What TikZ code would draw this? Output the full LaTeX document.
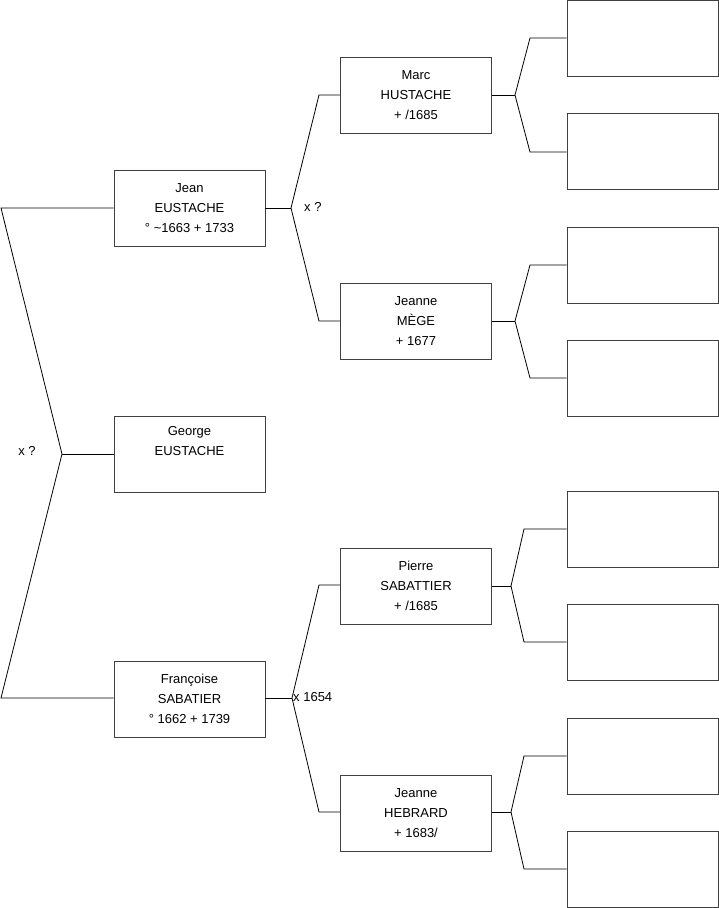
\documentclass[tikz,border=0pt]{standalone}
\usepackage{fontspec}
\setmainfont{Liberation Sans}
\begin{document}
\begin{tikzpicture}[x=1pt,y=-1pt,
  person/.style={draw=black!75,line width=0.9pt,rectangle,minimum width=151pt,minimum height=76pt,inner sep=0pt,align=center,font=\fontsize{13}{20}\selectfont},
  link/.style={draw=black,line width=0.8pt},
  lbl/.style={font=\fontsize{13}{15}\selectfont,inner sep=0pt}]
\useasboundingbox (0,0) rectangle (719,908);
% generation 1
\node[person] (jean) at (189.5,208) {Jean\\EUSTACHE\\° \textasciitilde1663 + 1733};
\node[person] (george) at (189.5,454) {George\\EUSTACHE\\\strut};
\node[person] (fran) at (189.5,699) {Françoise\\SABATIER\\° 1662 + 1739};
% generation 2
\node[person] (marc) at (416,95) {Marc\\HUSTACHE\\+ /1685};
\node[person] (mege) at (416,321.5) {Jeanne\\MÈGE\\+ 1677};
\node[person] (pierre) at (416,586) {Pierre\\SABATTIER\\+ /1685};
\node[person] (hebrard) at (416,813) {Jeanne\\HEBRARD\\+ 1683/};
% generation 3
\node[person] (g1) at (642.5,38) {};
\node[person] (g2) at (642.5,151) {};
\node[person] (g3) at (642.5,265) {};
\node[person] (g4) at (642.5,378) {};
\node[person] (g5) at (642.5,529) {};
\node[person] (g6) at (642.5,642) {};
\node[person] (g7) at (642.5,756) {};
\node[person] (g8) at (642.5,869) {};
% junction coordinates
\coordinate (L1) at (1,208);
\coordinate (Lm) at (62,454);
\coordinate (L2) at (1,698);
\coordinate (Jm) at (291,208);
\coordinate (Ja) at (319,95);
\coordinate (Jb) at (319,321);
\coordinate (Fm) at (292,698);
\coordinate (Fa) at (319,585);
\coordinate (Fb) at (319,812);
\coordinate (Mm) at (515,95);
\coordinate (Ma) at (530,38);
\coordinate (Mb) at (530,152);
\coordinate (Em) at (515,321);
\coordinate (Ea) at (530,265);
\coordinate (Eb) at (530,378);
\coordinate (Pm) at (511,586);
\coordinate (Pa) at (524,529);
\coordinate (Pb) at (524,642);
\coordinate (Hm) at (511,812);
\coordinate (Ha) at (524,756);
\coordinate (Hb) at (524,869);
% connectors
\draw[link] (jean.west |- L1) -- (L1) -- (Lm) -- (L2) -- (fran.west |- L2);
\draw[link] (george.west) -- (Lm);
\draw[link] (jean.east |- Jm) -- (Jm);
\draw[link] (marc.west) -- (Ja) -- (Jm) -- (Jb) -- (mege.west |- Jb);
\draw[link] (fran.east |- Fm) -- (Fm);
\draw[link] (pierre.west |- Fa) -- (Fa) -- (Fm) -- (Fb) -- (hebrard.west |- Fb);
\draw[link] (marc.east) -- (Mm);
\draw[link] (g1.west) -- (Ma) -- (Mm) -- (Mb) -- (g2.west |- Mb);
\draw[link] (mege.east |- Em) -- (Em);
\draw[link] (g3.west) -- (Ea) -- (Em) -- (Eb) -- (g4.west);
\draw[link] (pierre.east) -- (Pm);
\draw[link] (g5.west) -- (Pa) -- (Pm) -- (Pb) -- (g6.west);
\draw[link] (hebrard.east |- Hm) -- (Hm);
\draw[link] (g7.west) -- (Ha) -- (Hm) -- (Hb) -- (g8.west);
% marriage labels
\node[lbl] (m0) at (27,451) {x ?};
\node[lbl,anchor=west] (m1) at (304,207) {x ?};
\node[lbl,anchor=west] (m2) at (293,697) {x 1654};
\end{tikzpicture}
\end{document}
